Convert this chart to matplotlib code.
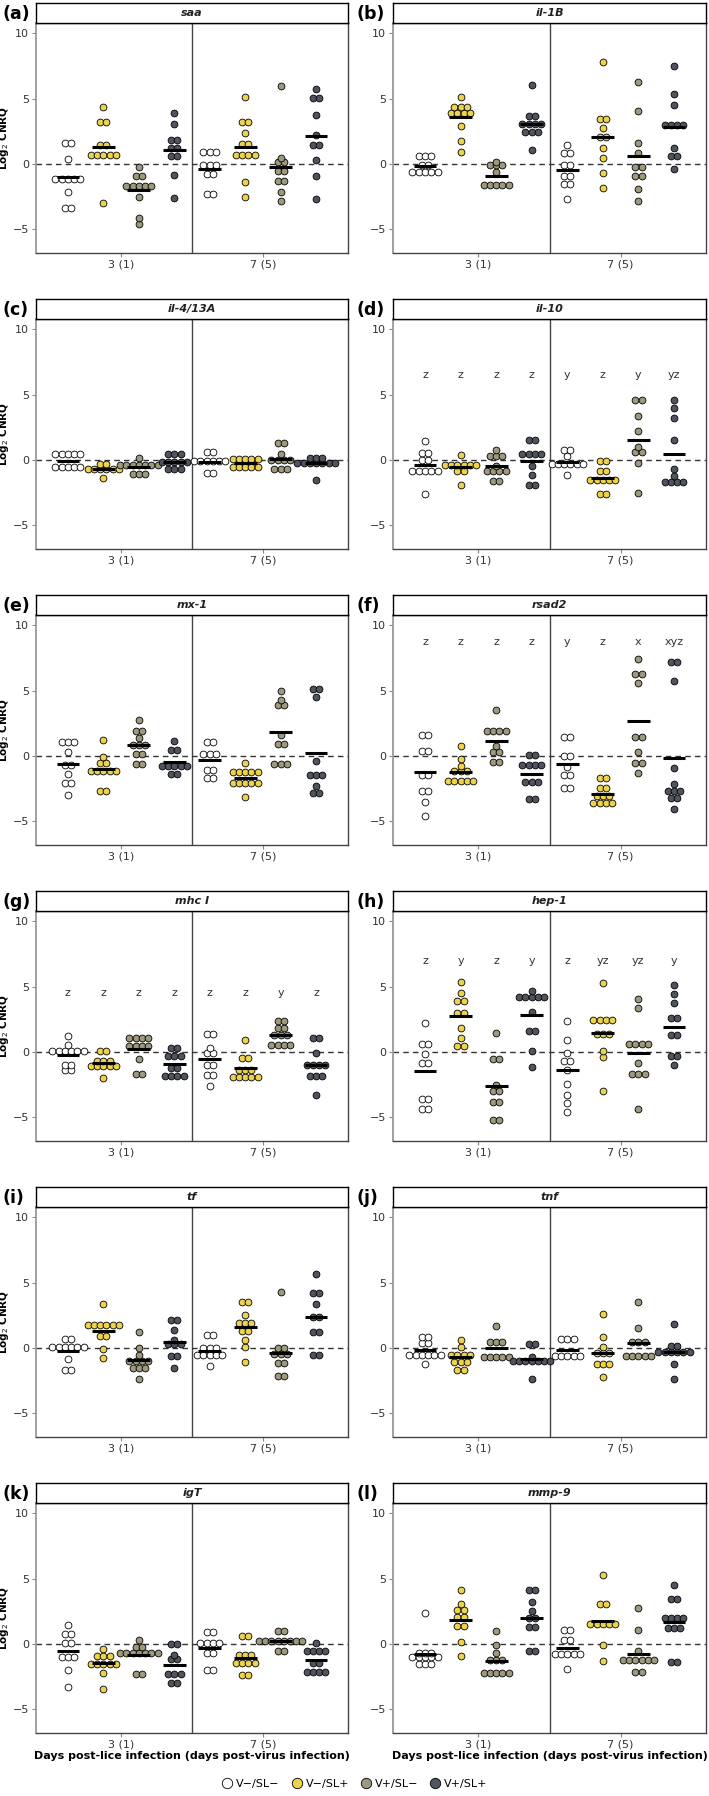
import numpy as np
import matplotlib
matplotlib.use("Agg")
import matplotlib.pyplot as plt
from matplotlib.lines import Line2D

# groups in order: day 3 (V-/SL-, V-/SL+, V+/SL-, V+/SL+), then day 7 (same order)
groups = ["V\u2212/SL\u2212", "V\u2212/SL+", "V+/SL\u2212", "V+/SL+"]
colors = ["#FFFFFF", "#EDD24B", "#9E997C", "#50545E"]
days = ["3 (1)", "7 (5)"]
genes = ["saa", "il-1B", "il-4/13A", "il-10", "mx-1", "rsad2",
         "mhc I", "hep-1", "tf", "tnf", "igT", "mmp-9"]
panel_tags = ["(a)", "(b)", "(c)", "(d)", "(e)", "(f)",
              "(g)", "(h)", "(i)", "(j)", "(k)", "(l)"]

saa = [
    [1.6, 1.6, 0.4, -1.15, -1.15, -1.15, -1.15, -1.15, -2.1, -3.35, -3.35],
    [4.4, 3.25, 3.25, 1.45, 1.45, 0.7, 0.7, 0.7, 0.7, 0.7, -3.0],
    [-0.25, -0.9, -0.9, -1.7, -1.7, -1.7, -1.7, -1.7, -2.5, -4.1, -4.6],
    [3.95, 3.05, 1.85, 1.85, 1.2, 1.2, 0.6, 0.6, -0.85, -2.6],
    [0.9, 0.9, 0.9, -0.1, -0.1, -0.1, -0.75, -0.75, -2.25, -2.25],
    [5.1, 3.25, 3.25, 2.35, 1.55, 1.55, 0.7, 0.7, 0.7, 0.7, -1.4, -2.5],
    [5.95, 0.5, 0.15, 0.15, -0.55, -0.55, -1.3, -1.3, -2.15, -2.8],
    [5.75, 5.05, 5.05, 3.75, 2.25, 1.5, 1.5, 0.3, -0.9, -2.65],
]
il1b = [
    [0.6, 0.6, 0.6, -0.1, -0.1, -0.6, -0.6, -0.6, -0.6, -0.6],
    [5.1, 4.4, 4.4, 4.4, 3.9, 3.9, 3.9, 3.9, 2.95, 1.8, 0.9],
    [0.2, -0.1, -0.1, -0.1, -0.6, -1.6, -1.6, -1.6, -1.6, -1.6],
    [6.05, 3.65, 3.65, 3.05, 3.05, 3.05, 3.05, 2.45, 2.45, 2.45, 1.1],
    [1.5, 0.85, 0.85, -0.1, -0.1, -0.9, -0.9, -1.5, -1.5, -2.65],
    [7.8, 3.45, 3.45, 2.8, 2.05, 2.05, 1.2, 0.45, -0.7, -1.8],
    [6.3, 4.1, 1.6, 0.85, -0.2, -0.2, -0.9, -0.9, -1.9, -2.85],
    [7.5, 5.4, 4.5, 3.0, 3.0, 3.0, 3.0, 1.2, 0.6, 0.6, -0.4],
]
il4 = [
    [0.45, 0.45, 0.45, 0.45, 0.45, -0.55, -0.55, -0.55, -0.55, -0.55],
    [-0.3, -0.3, -0.7, -0.7, -0.7, -0.7, -0.7, -0.7, -1.4],
    [0.2, -0.4, -0.4, -0.4, -0.4, -0.4, -0.4, -0.4, -1.05, -1.05, -1.05],
    [0.45, 0.45, 0.45, -0.15, -0.15, -0.15, -0.15, -0.15, -0.65, -0.65, -0.65],
    [0.65, 0.65, -0.1, -0.1, -0.1, -0.1, -0.1, -0.1, -1.0, -1.0],
    [0.05, 0.05, 0.05, 0.05, 0.05, -0.55, -0.55, -0.55, -0.55, -0.55],
    [1.3, 1.3, 0.45, 0.02, 0.02, 0.02, 0.02, -0.65, -0.65, -0.65],
    [0.2, 0.2, 0.2, -0.2, -0.2, -0.2, -0.2, -0.2, -0.2, -0.2, -1.55],
]
il10 = [
    [1.5, 0.55, 0.55, 0.0, 0.0, -0.85, -0.85, -0.85, -0.85, -0.85, -2.6],
    [0.4, -0.35, -0.35, -0.35, -0.35, -0.35, -0.35, -0.85, -0.85, -1.9],
    [0.8, 0.35, 0.35, 0.35, -0.45, -0.85, -0.85, -0.85, -0.85, -1.6, -1.6],
    [1.55, 1.55, 0.45, 0.45, 0.45, 0.45, -0.45, -1.1, -1.9, -1.9],
    [0.8, 0.8, 0.3, -0.3, -0.3, -0.3, -0.3, -0.3, -0.3, -1.15],
    [-0.05, -0.05, -0.85, -0.85, -1.55, -1.55, -1.55, -1.55, -1.55, -2.6, -2.6],
    [4.6, 4.6, 3.4, 2.2, 1.0, 0.6, 0.6, -0.25, -2.55],
    [4.6, 4.0, 3.2, 1.55, -0.65, -1.2, -1.7, -1.7, -1.7, -1.7],
]
mx1 = [
    [1.1, 1.1, 1.1, 0.35, -0.65, -0.65, -1.4, -2.05, -2.05, -2.95],
    [1.2, -0.05, -0.55, -0.55, -1.15, -1.15, -1.15, -1.15, -1.15, -2.7, -2.7],
    [2.75, 1.95, 1.95, 1.35, 0.85, 0.85, 0.85, 0.2, 0.2, -0.6, -0.6],
    [1.15, 0.45, 0.45, -0.75, -0.75, -0.75, -0.75, -0.75, -1.35, -1.35],
    [1.1, 1.1, 0.15, 0.15, 0.15, -1.05, -1.05, -1.65, -1.65],
    [-0.5, -1.2, -1.2, -1.2, -1.2, -1.2, -2.05, -2.05, -2.05, -2.05, -2.05, -3.15],
    [5.0, 4.3, 3.9, 3.9, 1.6, 0.95, 0.95, -0.6, -0.6, -0.6],
    [5.15, 5.15, 4.5, -0.4, -1.45, -1.45, -1.45, -2.25, -2.85, -2.85],
]
rsad2 = [
    [1.6, 1.6, 0.4, 0.4, -1.45, -1.45, -2.7, -2.7, -3.5, -4.55],
    [0.8, -0.2, -0.75, -1.15, -1.15, -1.15, -1.9, -1.9, -1.9, -1.9, -1.9],
    [3.55, 1.9, 1.9, 1.9, 1.9, 0.75, 0.35, 0.35, -0.45, -0.45],
    [0.05, 0.05, -0.65, -0.65, -0.65, -0.65, -1.95, -1.95, -1.95, -3.3, -3.3],
    [1.5, 1.5, 0.0, 0.0, -0.8, -1.45, -1.45, -2.4, -2.4],
    [-1.65, -1.65, -2.4, -2.4, -3.05, -3.05, -3.05, -3.6, -3.6, -3.6, -3.6],
    [7.4, 6.3, 6.3, 5.6, 1.5, 1.5, 0.3, -0.5, -0.5, -1.3],
    [7.2, 7.2, 5.75, -0.9, -2.15, -2.7, -2.7, -2.7, -3.2, -3.2, -4.05],
]
mhc = [
    [1.2, 0.55, 0.05, 0.05, 0.05, 0.05, 0.05, 0.05, -0.95, -0.95, -1.4, -1.4],
    [0.1, 0.1, -0.65, -0.65, -0.65, -1.05, -1.05, -1.05, -1.05, -1.05, -2.0],
    [1.05, 1.05, 1.05, 1.05, 0.5, 0.5, 0.5, 0.5, -0.5, -1.7, -1.7],
    [0.3, 0.3, -0.3, -0.3, -0.3, -1.2, -1.2, -1.8, -1.8, -1.8, -1.8],
    [1.4, 1.4, 0.3, -0.1, -0.1, -0.95, -0.95, -1.75, -1.75, -2.6],
    [0.9, -0.45, -0.45, -1.4, -1.4, -1.4, -1.9, -1.9, -1.9, -1.9, -1.9],
    [2.4, 2.4, 1.85, 1.85, 1.3, 1.3, 1.3, 0.55, 0.55, 0.55, 0.55],
    [1.05, 1.05, -0.1, -0.95, -0.95, -0.95, -0.95, -1.85, -1.85, -1.85, -3.25],
]
hep1 = [
    [2.2, 0.6, 0.6, -0.15, -0.8, -0.8, -3.55, -3.55, -4.35, -4.35],
    [5.35, 4.55, 3.9, 3.9, 3.0, 3.0, 1.85, 1.05, 0.45, 0.45],
    [1.45, -0.5, -0.5, -2.5, -2.95, -2.95, -3.8, -3.8, -5.2, -5.2],
    [4.7, 4.2, 4.2, 4.2, 4.2, 4.2, 3.1, 1.65, 1.65, 0.05, -1.1],
    [2.4, 0.9, -0.1, -0.7, -0.7, -1.35, -2.4, -3.25, -3.9, -4.55],
    [5.3, 2.45, 2.45, 2.45, 2.45, 1.35, 1.35, 1.35, 0.1, -0.4, -2.95],
    [4.05, 3.4, 0.6, 0.6, 0.6, 0.6, -0.8, -1.7, -1.7, -1.7, -4.35],
    [5.1, 4.45, 3.75, 2.6, 2.6, 1.3, 1.3, -0.3, -0.3, -0.95],
]
tf = [
    [0.7, 0.7, 0.1, 0.1, 0.1, 0.1, 0.1, 0.1, -0.85, -1.7, -1.7],
    [3.35, 1.75, 1.75, 1.75, 1.75, 1.75, 1.75, 0.9, 0.9, -0.1, -0.75],
    [1.2, 0.0, -0.55, -1.0, -1.0, -1.0, -1.0, -1.55, -1.55, -1.55, -2.35],
    [2.15, 2.15, 1.35, 0.6, 0.3, 0.3, 0.3, -0.6, -0.6, -1.5],
    [1.0, 1.0, 0.0, 0.0, 0.0, -0.55, -0.55, -0.55, -0.55, -0.55, -1.4],
    [3.55, 3.55, 2.5, 1.95, 1.95, 1.95, 1.3, 1.3, 0.65, 0.05, -1.05],
    [4.3, 0.0, 0.0, -0.45, -0.45, -0.45, -1.15, -1.15, -2.15, -2.15],
    [5.65, 4.25, 4.25, 3.4, 2.4, 2.4, 1.2, 1.2, -0.5, -0.5],
]
tnf = [
    [0.85, 0.85, 0.4, 0.4, -0.5, -0.5, -0.5, -0.5, -0.5, -0.5, -1.25],
    [0.6, 0.1, -0.5, -0.5, -0.5, -0.5, -1.05, -1.05, -1.05, -1.65, -1.65],
    [1.7, 0.5, 0.5, 0.5, -0.65, -0.65, -0.65, -0.65, -0.65],
    [0.3, 0.3, -0.65, -0.95, -0.95, -0.95, -0.95, -0.95, -0.95, -0.95, -2.4],
    [0.7, 0.7, 0.7, -0.6, -0.6, -0.6, -0.6, -0.6],
    [2.6, 0.85, 0.1, -0.35, -0.35, -0.35, -1.25, -1.25, -1.25, -2.2],
    [3.5, 1.55, 0.5, 0.5, 0.5, -0.6, -0.6, -0.6, -0.6, -0.6],
    [1.85, 0.2, 0.2, -0.3, -0.3, -0.3, -0.3, -0.3, -0.3, -1.25, -2.35],
]
igt = [
    [1.45, 0.8, 0.8, 0.1, 0.1, -1.0, -1.0, -1.0, -1.95, -3.3],
    [-0.4, -0.9, -0.9, -0.9, -1.5, -1.5, -1.5, -1.5, -1.5, -2.2, -3.45],
    [0.35, -0.25, -0.25, -0.7, -0.7, -0.7, -0.7, -0.7, -0.7, -0.7, -2.3, -2.3],
    [0.0, 0.0, -0.8, -1.15, -1.15, -2.3, -2.3, -2.3, -2.95, -2.95],
    [0.9, 0.9, 0.05, 0.05, 0.05, 0.05, -0.7, -0.7, -1.95, -1.95],
    [0.65, 0.65, -0.85, -0.85, -0.85, -1.45, -1.45, -1.45, -1.45, -2.35, -2.35],
    [1.0, 1.0, 0.25, 0.25, 0.25, 0.25, 0.25, 0.25, 0.25, 0.25, -0.55, -0.55],
    [0.1, -0.55, -0.55, -0.55, -0.55, -1.45, -1.45, -2.15, -2.15, -2.15, -2.15],
]
mmp9 = [
    [2.4, -0.65, -0.65, -0.65, -1.0, -1.0, -1.0, -1.0, -1.0, -1.55, -1.55, -1.55],
    [4.15, 3.05, 2.65, 2.65, 2.05, 2.05, 1.35, 1.35, 0.2, -0.9],
    [1.0, -0.05, -0.7, -1.25, -1.25, -1.25, -2.2, -2.2, -2.2, -2.2, -2.2],
    [4.15, 4.15, 3.25, 2.55, 2.0, 2.0, 1.3, 1.3, -0.5, -0.5],
    [1.05, 1.05, 0.3, 0.3, -0.75, -0.75, -0.75, -0.75, -0.75, -1.9],
    [5.3, 3.05, 3.05, 1.55, 1.55, 1.55, 1.55, 1.55, -0.05, -1.3],
    [2.75, 1.1, -0.5, -1.2, -1.2, -1.2, -1.2, -1.2, -1.2, -2.15, -2.15],
    [4.5, 3.45, 3.45, 2.0, 2.0, 2.0, 2.0, 1.25, 1.25, 1.25, -1.4, -1.4],
]
gene_data = [saa, il1b, il4, il10, mx1, rsad2, mhc, hep1, tf, tnf, igt, mmp9]

# significance letters (gene -> height, letters per group)
letter_y = {"il-10": 6.5, "rsad2": 8.7, "mhc I": 4.5, "hep-1": 7.0}
letters = {
    "il-10": ["z", "z", "z", "z", "y", "z", "y", "yz"],
    "rsad2": ["z", "z", "z", "z", "y", "z", "x", "xyz"],
    "mhc I": ["z", "z", "z", "z", "z", "z", "y", "z"],
    "hep-1": ["z", "y", "z", "y", "z", "yz", "yz", "y"],
}

W, H = 709, 1796
fig = plt.figure(figsize=(W / 100, H / 100), dpi=100)
col_px = [(36, 348), (393, 706)]
row_step = 296
offsets = [-0.375, -0.125, 0.125, 0.375]
step = 0.044  # horizontal spacing between stacked dots

for idx, gene in enumerate(genes):
    r, c = divmod(idx, 2)
    x0, x1 = col_px[c]
    top = 23 + row_step * r
    bot = 253 + row_step * r
    ax = fig.add_axes([x0 / W, 1 - bot / H, (x1 - x0) / W, (bot - top) / H])
    data = gene_data[idx]

    for g, vals in enumerate(data):
        day = g // 4
        k = g % 4
        center = day + 1 + offsets[k]
        vals = np.array(vals)
        xs, ys = [], []
        for v in np.unique(vals):
            n = int(np.sum(np.isclose(vals, v)))
            for i in range(n):
                xs.append(center + (i - (n - 1) / 2) * step)
                ys.append(v)
        ax.scatter(xs, ys, s=24, c=colors[k], edgecolors="black",
                   linewidths=0.6, zorder=3)
        m = vals.mean()
        ax.hlines(m, center - 0.08, center + 0.08, color="black", lw=2.2, zorder=4)
        if gene in letters:
            ax.text(center, letter_y[gene], letters[gene][g], ha="center",
                    va="center", fontsize=8, color="#333333")

    ax.axhline(0, color="#333333", lw=1, ls=(0, (4, 3)), zorder=2)
    ax.axvline(1.5, color="#444444", lw=1, zorder=1)
    ax.set_xlim(0.4, 2.6)
    ax.set_ylim(-6.8, 10.8)
    ax.set_yticks([-5, 0, 5, 10])
    ax.set_yticklabels(["\u22125", "0", "5", "10"])
    ax.set_xticks([1, 2])
    ax.set_xticklabels(days)
    ax.tick_params(labelsize=8, length=3, color="#888888", labelcolor="#333333", pad=2)
    for s in ["top", "right", "bottom"]:
        ax.spines[s].set_color("#444444")
        ax.spines[s].set_linewidth(1)
    ax.spines["left"].set_color("#999999")
    ax.spines["left"].set_linewidth(1.3)
    if c == 0:
        ax.set_ylabel("Log$_2$ CNRQ", fontsize=7.5, fontweight="bold")
        ax.yaxis.set_label_coords((11 - x0) / (x1 - x0), 0.5)
    if r == 5:
        ax.set_xlabel("Days post-lice infection (days post-virus infection)",
                      fontsize=8, fontweight="bold", labelpad=1)

    # strip with gene name
    sax = fig.add_axes([x0 / W, 1 - top / H, (x1 - x0) / W, 20 / H])
    sax.set_xticks([])
    sax.set_yticks([])
    for s in sax.spines.values():
        s.set_color("black")
        s.set_linewidth(1)
    sax.text(0.5, 0.5, gene, ha="center", va="center", fontsize=8,
             fontstyle="italic", fontweight="bold", color="#222222",
             transform=sax.transAxes)

    tag_x = 2 if c == 0 else 356
    fig.text(tag_x / W, 1 - (14 + row_step * r) / H, panel_tags[idx],
             fontsize=12.5, fontweight="bold", ha="left", va="center")

handles = [Line2D([], [], marker="o", ls="", markersize=7.5, markerfacecolor=col,
                  markeredgecolor="black", markeredgewidth=0.6) for col in colors]
fig.legend(handles, groups, loc="center", bbox_to_anchor=(0.5, 1 - 1784 / H),
           ncol=4, frameon=False, fontsize=8, handletextpad=0.3,
           columnspacing=1.0, handlelength=1.0)

fig.savefig("out.png", dpi=100)
